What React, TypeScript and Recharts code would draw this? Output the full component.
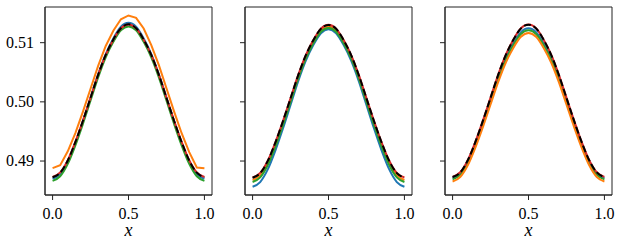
import React from 'react'
import { LineChart, Line, XAxis, YAxis, ReferenceArea } from 'recharts'

// sample positions along x
const xs = [0, 0.05, 0.1, 0.15, 0.2, 0.25, 0.3, 0.35, 0.4, 0.45, 0.5, 0.55, 0.6, 0.65, 0.7, 0.75, 0.8, 0.85, 0.9, 0.95, 1.0]

// panel 1
const p1Blue = [0.48700, 0.48779, 0.48990, 0.49306, 0.49675, 0.50070, 0.50465, 0.50808, 0.51072, 0.51269, 0.51335, 0.51269, 0.51072, 0.50808, 0.50465, 0.50070, 0.49675, 0.49306, 0.48990, 0.48779, 0.48700]
const p1Orange = [0.48880, 0.48930, 0.49164, 0.49473, 0.49835, 0.50222, 0.50609, 0.50944, 0.51202, 0.51396, 0.51460, 0.51420, 0.51240, 0.50960, 0.50620, 0.50230, 0.49840, 0.49470, 0.49150, 0.48890, 0.48880]
const p1Green = [0.48665, 0.48743, 0.48952, 0.49265, 0.49631, 0.50022, 0.50414, 0.50753, 0.51014, 0.51210, 0.51275, 0.51210, 0.51014, 0.50753, 0.50414, 0.50022, 0.49631, 0.49265, 0.48952, 0.48743, 0.48665]
const p1Red = [0.48730, 0.48808, 0.49014, 0.49324, 0.49684, 0.50071, 0.50458, 0.50793, 0.51051, 0.51243, 0.51308, 0.51243, 0.51051, 0.50793, 0.50458, 0.50071, 0.49684, 0.49324, 0.49014, 0.48808, 0.48730]
const p1Exact = [0.48725, 0.48803, 0.49009, 0.49320, 0.49681, 0.50069, 0.50457, 0.50793, 0.51052, 0.51245, 0.51310, 0.51245, 0.51052, 0.50793, 0.50457, 0.50069, 0.49681, 0.49320, 0.49009, 0.48803, 0.48725]

// panel 2
const p2Blue = [0.48565, 0.48645, 0.48858, 0.49177, 0.49549, 0.49948, 0.50347, 0.50693, 0.50959, 0.51159, 0.51225, 0.51159, 0.50959, 0.50693, 0.50347, 0.49948, 0.49549, 0.49177, 0.48858, 0.48645, 0.48565]
const p2Orange = [0.48680, 0.48758, 0.48965, 0.49276, 0.49638, 0.50027, 0.50415, 0.50752, 0.51011, 0.51205, 0.51270, 0.51205, 0.51011, 0.50752, 0.50415, 0.50027, 0.49638, 0.49276, 0.48965, 0.48758, 0.48680]
const p2Green = [0.48645, 0.48723, 0.48932, 0.49244, 0.49609, 0.49999, 0.50390, 0.50729, 0.50990, 0.51185, 0.51250, 0.51185, 0.50990, 0.50729, 0.50390, 0.49999, 0.49609, 0.49244, 0.48932, 0.48723, 0.48645]
const p2Red = [0.48722, 0.48799, 0.49006, 0.49316, 0.49676, 0.50064, 0.50451, 0.50786, 0.51044, 0.51237, 0.51302, 0.51237, 0.51044, 0.50786, 0.50451, 0.50064, 0.49676, 0.49316, 0.49006, 0.48799, 0.48722]
const p2Exact = [0.48718, 0.48795, 0.49002, 0.49312, 0.49673, 0.50061, 0.50448, 0.50784, 0.51042, 0.51235, 0.51300, 0.51235, 0.51042, 0.50784, 0.50448, 0.50061, 0.49673, 0.49312, 0.49002, 0.48795, 0.48718]

// panel 3
const p3Blue = [0.48712, 0.48788, 0.48990, 0.49294, 0.49648, 0.50028, 0.50407, 0.50736, 0.50989, 0.51179, 0.51242, 0.51179, 0.50989, 0.50736, 0.50407, 0.50028, 0.49648, 0.49294, 0.48990, 0.48788, 0.48712]
const p3Orange = [0.48655, 0.48730, 0.48928, 0.49228, 0.49578, 0.49955, 0.50332, 0.50660, 0.50912, 0.51100, 0.51165, 0.51100, 0.50912, 0.50660, 0.50332, 0.49955, 0.49578, 0.49228, 0.48928, 0.48730, 0.48655]
const p3Green = [0.48690, 0.48766, 0.48967, 0.49270, 0.49622, 0.50000, 0.50378, 0.50706, 0.50958, 0.51147, 0.51210, 0.51147, 0.50958, 0.50706, 0.50378, 0.50000, 0.49622, 0.49270, 0.48967, 0.48766, 0.48690]
const p3Red = [0.48733, 0.48810, 0.49016, 0.49325, 0.49686, 0.50072, 0.50458, 0.50793, 0.51051, 0.51244, 0.51308, 0.51244, 0.51051, 0.50793, 0.50458, 0.50072, 0.49686, 0.49325, 0.49016, 0.48810, 0.48733]
const p3Exact = [0.48730, 0.48807, 0.49013, 0.49322, 0.49683, 0.50069, 0.50455, 0.50790, 0.51048, 0.51241, 0.51305, 0.51241, 0.51048, 0.50790, 0.50455, 0.50069, 0.49683, 0.49322, 0.49013, 0.48807, 0.48730]

const xTicks = [0, 0.5, 1]
const yTicks = [0.49, 0.5, 0.51]
const X_DOMAIN: [number, number] = [-0.05, 1.05]
const Y_DOMAIN: [number, number] = [0.48426, 0.51603]

const FONT = '"Liberation Serif", "DejaVu Serif", serif'
const AXIS = '#222'
const tickStyle: React.CSSProperties = { fontFamily: FONT, fontSize: '16px', fill: '#000' }
const labelStyle: React.CSSProperties = { fontFamily: FONT, fontSize: '18px', fontStyle: 'italic', fill: '#000' }

// custom tick renderers so the serif font and size are applied as-is
const XTick = (props: any) => {
  const { x, y, payload } = props
  return (
    <text x={x} y={y + 5} dy={12} textAnchor="middle" style={tickStyle}>
      {Number(payload.value).toFixed(1)}
    </text>
  )
}

const YTick = (props: any) => {
  const { x, y, payload } = props
  return (
    <text x={x - 4} y={y} dy={5} textAnchor="end" style={tickStyle}>
      {Number(payload.value).toFixed(2)}
    </text>
  )
}

const NoTick = () => <g />

const XLabel = (props: any) => {
  const vb = props.viewBox || {}
  return (
    <text x={vb.x + vb.width / 2} y={236} textAnchor="middle" style={labelStyle}>
      x
    </text>
  )
}

interface PanelProps {
  left: number
  blue: number[]
  orange: number[]
  green: number[]
  red: number[]
  exact: number[]
  showYLabels: boolean
  orangeLinear?: boolean
  orangeOnTop?: boolean
}

function Panel({ left, blue, orange, green, red, exact, showYLabels, orangeLinear, orangeOnTop }: PanelProps) {
  const rows = xs.map((x, i) => ({
    x,
    blue: blue[i],
    orange: orange[i],
    green: green[i],
    red: red[i],
    exact: exact[i],
  }))

  const orangeLine = (
    <Line type={orangeLinear ? 'linear' : 'monotone'} dataKey="orange" stroke="#ff7f0e" strokeWidth={2} dot={false} isAnimationActive={false} />
  )

  return (
    <div style={{ position: 'absolute', left, top: 0 }}>
      <LineChart width={222} height={250} data={rows} margin={{ top: 7, right: 10, bottom: 0, left: 0 }}>
        <XAxis
          dataKey="x"
          type="number"
          domain={X_DOMAIN}
          allowDataOverflow
          ticks={xTicks}
          tick={<XTick />}
          tickSize={5}
          height={55}
          stroke={AXIS}
          label={<XLabel />}
        />
        <YAxis
          type="number"
          domain={Y_DOMAIN}
          allowDataOverflow
          ticks={yTicks}
          tick={showYLabels ? <YTick /> : <NoTick />}
          tickSize={5}
          width={45}
          stroke={AXIS}
        />
        <ReferenceArea x1={X_DOMAIN[0]} x2={X_DOMAIN[1]} y1={Y_DOMAIN[0]} y2={Y_DOMAIN[1]} fill="none" stroke={AXIS} strokeWidth={1} />
        <Line type="monotone" dataKey="blue" stroke="#1f77b4" strokeWidth={2} dot={false} isAnimationActive={false} />
        {!orangeOnTop && orangeLine}
        <Line type="monotone" dataKey="green" stroke="#2ca02c" strokeWidth={2} dot={false} isAnimationActive={false} />
        {orangeOnTop && orangeLine}
        <Line type="monotone" dataKey="red" stroke="#d62728" strokeWidth={2} dot={false} isAnimationActive={false} />
        <Line type="monotone" dataKey="exact" stroke="#000" strokeWidth={2} strokeDasharray="7 3" dot={false} isAnimationActive={false} />
      </LineChart>
    </div>
  )
}

export default function App() {
  return (
    <div style={{ position: 'absolute', left: 0, top: 0, width: 623, height: 250, background: '#fff' }}>
      <Panel left={0} blue={p1Blue} orange={p1Orange} green={p1Green} red={p1Red} exact={p1Exact} showYLabels orangeLinear />
      <Panel left={200} blue={p2Blue} orange={p2Orange} green={p2Green} red={p2Red} exact={p2Exact} showYLabels={false} />
      <Panel left={400} blue={p3Blue} orange={p3Orange} green={p3Green} red={p3Red} exact={p3Exact} showYLabels={false} orangeOnTop />
    </div>
  )
}
